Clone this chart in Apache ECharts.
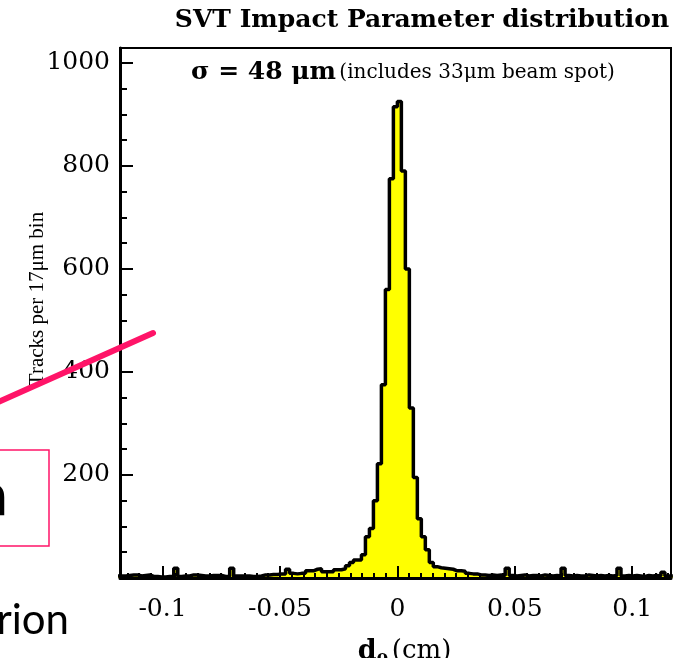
<!DOCTYPE html>
<html>
<head>
<meta charset="utf-8">
<script src="https://cdn.jsdelivr.net/npm/echarts@6/dist/echarts.min.js"></script>
<style>
  html, body { margin: 0; padding: 0; background: #fff; }
  #chart { width: 673px; height: 658px; }
</style>
</head>
<body>
<div id="chart"></div>
<script>
// Histogram of track impact parameter d0, 17 µm bins (bin j spans [j, j+1] * binWidth)
const binWidth = 0.0017;            // cm
const firstBin = -70;               // index of the first bin in counts
const counts = [
  // j = -70 .. -1
  4, 4, 5, 6, 6, 4, 5, 6, 3, 3,
  2, 2, 3, 3, 19, 3, 4, 4, 6, 6,
  5, 4, 4, 5, 5, 5, 3, 3, 19, 4,
  4, 4, 4, 3, 3, 4, 6, 6, 7, 7,
  8, 8, 17, 9, 8, 9, 9, 14, 14, 17,
  18, 12, 12, 12, 16, 16, 18, 24, 30, 35,
  35, 45, 80, 96, 150, 222, 375, 560, 775, 915,
  // j = 0 .. 68
  925, 790, 600, 330, 195, 115, 80, 55, 30, 22,
  20, 19, 18, 17, 14, 14, 13, 9, 8, 8,
  6, 6, 5, 6, 5, 6, 5, 19, 5, 4,
  5, 6, 4, 5, 5, 4, 6, 5, 4, 5,
  4, 19, 5, 4, 5, 4, 4, 6, 5, 4,
  5, 4, 5, 4, 5, 19, 4, 5, 4, 5,
  4, 3, 5, 4, 5, 4, 11, 4, 4
];

const xRange = [-0.1181, 0.1165];
const xLabelValues = [-0.1, -0.05, 0, 0.05, 0.1];
const xMinorStep = 0.005;
const yRange = [0, 1029];
const yMajorTicks = [0, 200, 400, 600, 800, 1000];
const yLabelValues = [200, 400, 600, 800, 1000];
const yMinorStep = 50;

// step outline points at bin left edges, plus the closing right edge
const histPoints = counts.map((c, i) => [+(((firstBin + i) * binWidth).toFixed(5)), c]);
histPoints.push([+(((firstBin + counts.length) * binWidth).toFixed(5)), counts[counts.length - 1]]);

const xMinorTicks = [];
for (let k = -23; k <= 23; k++) xMinorTicks.push(+(k * xMinorStep).toFixed(4));
const yMinorTicks = [];
for (let v = 0; v <= 1000; v += yMinorStep) yMinorTicks.push(v);

const serif = "'Liberation Serif', 'DejaVu Serif', serif";
const wideSerif = "'DejaVu Serif', serif";
const pink = '#ff1468';

const chart = echarts.init(document.getElementById('chart'), null, { renderer: 'canvas' });

chart.setOption({
  animation: false,
  backgroundColor: '#fff',
  title: {
    text: 'SVT Impact Parameter distribution',
    left: 417,
    top: 3,
    textAlign: 'center',
    textStyle: { fontFamily: wideSerif, fontWeight: 'bold', fontSize: 25, color: '#000' }
  },
  grid: {
    left: 120, right: 2, top: 48, bottom: 80,
    show: true, borderColor: '#000', borderWidth: 2,
    outerBoundsMode: 'none'
  },
  xAxis: [
    {
      type: 'value', min: xRange[0], max: xRange[1], position: 'bottom', z: 5,
      axisLine: { show: true, onZero: false, lineStyle: { color: '#000', width: 3 } },
      axisTick: { show: true, inside: true, length: 12, customValues: xLabelValues,
                  lineStyle: { color: '#000', width: 2 } },
      axisLabel: { show: true, customValues: xLabelValues, margin: 19,
                   formatter: v => String(v),
                   fontFamily: wideSerif, fontSize: 25, color: '#000' },
      splitLine: { show: false },
      name: '{d|d}{s|0} {u|(cm)}',
      nameLocation: 'middle', nameGap: 56, nameMoveOverlap: false,
      nameTextStyle: {
        padding: [0, 0, 0, 18],
        rich: {
          d: { fontFamily: wideSerif, fontWeight: 'bold', fontSize: 27, color: '#000' },
          s: { fontFamily: wideSerif, fontWeight: 'bold', fontSize: 17, color: '#000', padding: [18, 0, 0, 0] },
          u: { fontFamily: wideSerif, fontSize: 26, color: '#000' }
        }
      }
    },
    {
      type: 'value', min: xRange[0], max: xRange[1], position: 'bottom', z: 5,
      axisLine: { show: false, onZero: false },
      axisTick: { show: true, inside: true, length: 5, customValues: xMinorTicks,
                  lineStyle: { color: '#000', width: 2 } },
      axisLabel: { show: false },
      splitLine: { show: false }
    }
  ],
  yAxis: [
    {
      type: 'value', min: yRange[0], max: yRange[1], position: 'left', z: 5,
      axisLine: { show: true, onZero: false, lineStyle: { color: '#000', width: 3 } },
      axisTick: { show: true, inside: true, length: 13, customValues: yMajorTicks,
                  lineStyle: { color: '#000', width: 2 } },
      axisLabel: { show: true, customValues: yLabelValues, margin: 10,
                   formatter: v => String(v),
                   fontFamily: wideSerif, fontSize: 25, color: '#000' },
      splitLine: { show: false },
      name: 'Tracks per 17μm bin',
      nameLocation: 'middle', nameRotate: 90, nameGap: 72, nameMoveOverlap: false,
      nameTextStyle: { fontFamily: serif, fontSize: 21, color: '#000', padding: [0, 0, 0, 28] }
    },
    {
      type: 'value', min: yRange[0], max: yRange[1], position: 'left', z: 5,
      axisLine: { show: false, onZero: false },
      axisTick: { show: true, inside: true, length: 7, customValues: yMinorTicks,
                  lineStyle: { color: '#000', width: 2 } },
      axisLabel: { show: false },
      splitLine: { show: false }
    }
  ],
  series: [{
    type: 'line',
    xAxisIndex: 0, yAxisIndex: 0,
    data: histPoints,
    step: 'end',
    showSymbol: false,
    symbol: 'none',
    clip: true,
    lineStyle: { color: '#000', width: 3.5 },
    areaStyle: { color: '#ffff00', opacity: 1 },
    z: 2
  }],
  graphic: [
    {
      type: 'text', left: 191, top: 60, z: 10,
      style: {
        text: '{a|σ = 48 μm} {b|(includes 33μm beam spot)}',
        rich: {
          a: { fontFamily: wideSerif, fontWeight: 'bold', fontSize: 25, fill: '#000' },
          b: { fontFamily: wideSerif, fontSize: 20, fill: '#000' }
        }
      }
    },
    {
      type: 'line', z: 10,
      shape: { x1: -4, y1: 403, x2: 153, y2: 333 },
      style: { stroke: pink, lineWidth: 6, lineCap: 'round' }
    },
    {
      type: 'rect', z: 10,
      shape: { x: -2, y: 450, width: 51, height: 96 },
      style: { fill: 'none', stroke: pink, lineWidth: 1.5 }
    },
    {
      type: 'text', z: 10, x: 9, y: 528,
      style: { text: 'n', fontFamily: "'DejaVu Sans', sans-serif", fontSize: 56,
               fill: '#000', align: 'right', verticalAlign: 'bottom' }
    },
    {
      type: 'text', z: 10, x: 69, y: 641,
      style: { text: 'rion', fontFamily: "Lato, 'DejaVu Sans', sans-serif", fontSize: 42,
               fill: '#000', align: 'right', verticalAlign: 'bottom' }
    }
  ]
});
</script>
</body>
</html>
